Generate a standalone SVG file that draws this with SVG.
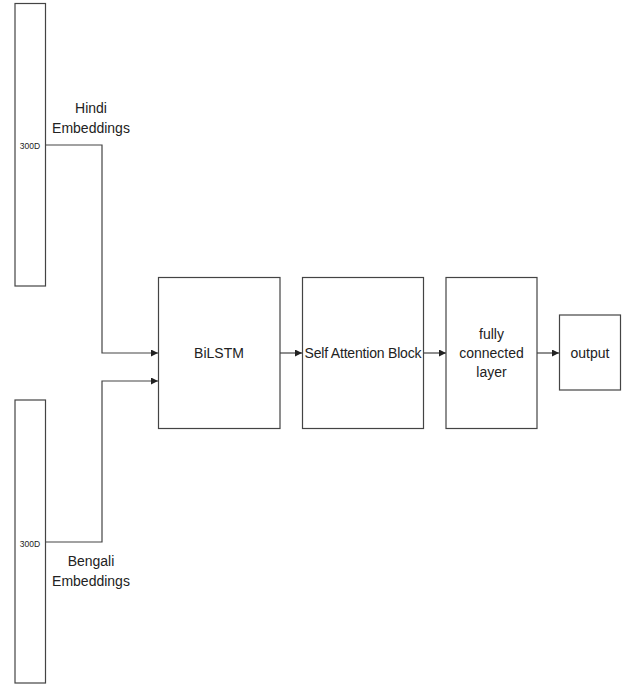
<svg xmlns="http://www.w3.org/2000/svg" width="622" height="685" viewBox="0 0 622 685">
<style>
.box{fill:#fff;stroke:#444;stroke-width:1.2}
.t{font-family:"Liberation Sans",Arial,sans-serif;font-size:14px;fill:#222;text-anchor:middle}
.s{font-family:"Liberation Sans",Arial,sans-serif;font-size:8.5px;fill:#222;text-anchor:middle}
.c{fill:none;stroke:#444;stroke-width:1.2}
</style>
<defs>
<marker id="ah" viewBox="0 0 10 10" refX="10" refY="5" markerWidth="7" markerHeight="7" markerUnits="userSpaceOnUse" orient="auto">
<path d="M0,0 L10,5 L0,10 Z" fill="#222"/>
</marker>
</defs>
<rect width="622" height="685" fill="#fff"/>
<g id="connectors">
<path class="c" d="M45.5,145 H102 V353 H158" marker-end="url(#ah)"/>
<path class="c" d="M45.5,542 H102 V381 H158" marker-end="url(#ah)"/>
<path class="c" d="M280,353 H302" marker-end="url(#ah)"/>
<path class="c" d="M423,353 H446" marker-end="url(#ah)"/>
<path class="c" d="M537,353 H559" marker-end="url(#ah)"/>
</g>
<g id="hindi">
<rect class="box" x="15" y="3.5" width="30.5" height="282.5"/>
<text class="s" x="30" y="149">300D</text>
<text class="t" x="91" y="113">Hindi</text>
<text class="t" x="91" y="133">Embeddings</text>
</g>
<g id="bengali">
<rect class="box" x="15" y="400" width="30.5" height="283"/>
<text class="s" x="30" y="547">300D</text>
<text class="t" x="91" y="566">Bengali</text>
<text class="t" x="91" y="586">Embeddings</text>
</g>
<g id="bilstm">
<rect class="box" x="158.5" y="277.5" width="121.5" height="151"/>
<text class="t" x="219" y="358">BiLSTM</text>
</g>
<g id="attention">
<rect class="box" x="302.5" y="277.5" width="121" height="151"/>
<text class="t" x="363" y="358" textLength="117">Self Attention Block</text>
</g>
<g id="fc">
<rect class="box" x="446" y="277.5" width="91" height="151"/>
<text class="t" x="491.5" y="339">fully</text>
<text class="t" x="491.5" y="358">connected</text>
<text class="t" x="491.5" y="377">layer</text>
</g>
<g id="output">
<rect class="box" x="559.5" y="315" width="61" height="75"/>
<text class="t" x="590" y="358">output</text>
</g>
</svg>
